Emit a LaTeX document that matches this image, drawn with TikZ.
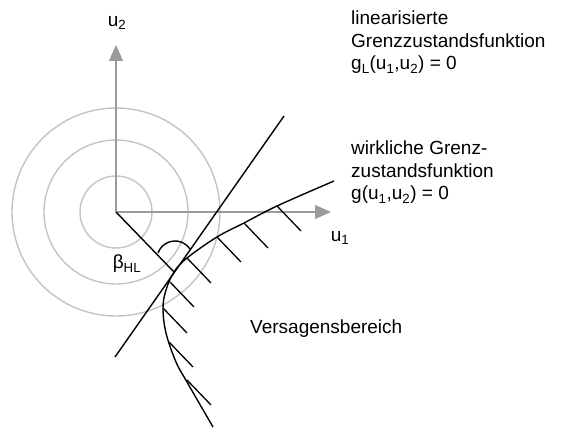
\documentclass[tikz,border=0pt]{standalone}
\usepackage{fontspec}
\setmainfont{Liberation Sans}
\usetikzlibrary{arrows.meta, positioning, calc}
\definecolor{axisgray}{RGB}{155,155,155}
\definecolor{ringgray}{RGB}{196,196,196}

\begin{document}
\begin{tikzpicture}[
        x=1pt, y=-1pt,
        axis/.style={draw=axisgray, fill=axisgray, line width=1.4pt, -{Triangle[length=16pt, width=14pt]}},
        ring/.style={draw=ringgray, line width=1.4pt},
        curve/.style={draw=black, line width=1.4pt},
        hatch/.style={draw=black, line width=1.3pt},
        textlabel/.style={inner sep=0pt, font=\fontsize{19}{22.5}\selectfont, align=left}
    ]
    \useasboundingbox (0,0) rectangle (571,428);

    \coordinate (origin) at (116,212);
    \coordinate (design) at (174,272);
    \coordinate (u1tip) at (331,212);
    \coordinate (u2tip) at (116,45);
    \coordinate (glow) at (115,357);
    \coordinate (ghigh) at (284,116);
    \coordinate (arcc) at (175,259);

    % standard normal space
    \foreach \r in {36,72,104}
        \draw[ring] (origin) circle[radius=\r];
    \draw[axis] (origin) -- (u1tip);
    \draw[axis] (origin) -- (u2tip);

    % limit state functions
    \draw[curve] (glow) -- (ghigh);
    \draw[curve] plot[smooth, tension=0.6] coordinates {(334,181) (277,206) (244,223) (217,237) (187,258) (174,272) (166,290) (163,308) (166,333) (176,362) (187,382) (213,427)};
    \foreach \hx/\hy in {277/206, 244/223, 217/237, 187/258, 170/282, 163/308, 169/342, 187/380}
        \draw[hatch] (\hx,\hy) -- ++(24,25);

    % reliability index
    \draw[curve] (origin) -- (design);
    \draw[curve] ($(arcc)+(-160:18)$) arc[start angle=-160, end angle=-33, radius=18];

    \node[textlabel] (u2lab) at (117,23) {u\textsubscript{2}};
    \node[textlabel] (u1lab) at (340,238) {u\textsubscript{1}};
    \node[textlabel] (betalab) at (127,264) {β\textsubscript{HL}};
    \node[textlabel, anchor=west] (failure) at (250,329) {Versagensbereich};
    \node[textlabel, anchor=north west] (linlab) at (351,11) {linearisierte\\Grenzzustandsfunktion\\g\textsubscript{L}(u\textsubscript{1},u\textsubscript{2}) = 0};
    \node[textlabel, anchor=north west] (reallab) at (351,141) {wirkliche Grenz-\\zustandsfunktion\\g(u\textsubscript{1},u\textsubscript{2}) = 0};
\end{tikzpicture}
\end{document}
